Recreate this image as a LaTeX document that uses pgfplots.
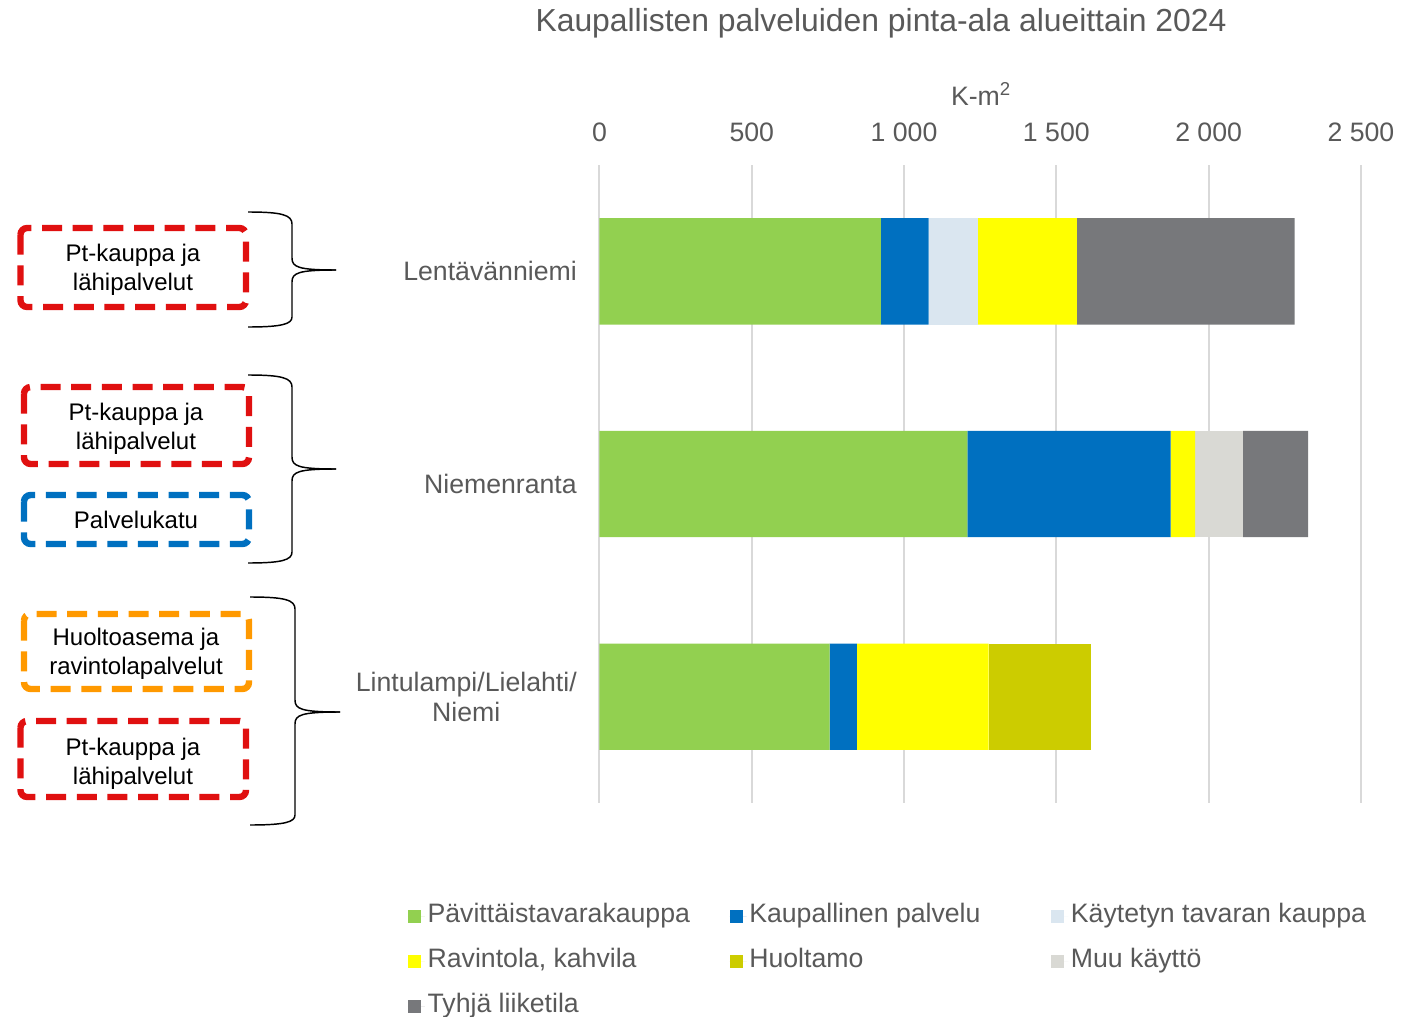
\documentclass[border=0pt]{standalone}
\usepackage{fontspec}
\setmainfont{Liberation Sans}
\usepackage{pgfplots}
\pgfplotsset{compat=1.18}

\definecolor{cGreen}{HTML}{92D050}
\definecolor{cBlue}{HTML}{0070C0}
\definecolor{cLight}{HTML}{DAE6F0}
\definecolor{cYellow}{HTML}{FFFF00}
\definecolor{cOlive}{HTML}{CCCC00}
\definecolor{cMuu}{HTML}{D9D9D4}
\definecolor{cEmpty}{HTML}{77787B}
\definecolor{txt}{HTML}{595959}
\definecolor{gridc}{HTML}{D9D9D9}
\definecolor{bxRed}{HTML}{E01010}
\definecolor{bxOrange}{HTML}{FF9900}

% 1 px of the reference = 0.75pt
\newcommand{\mainfs}{\fontsize{20}{22.5}\selectfont}
\newcommand{\legtxt}[1]{\makebox[224.5pt][l]{#1}}

\begin{document}
\begin{tikzpicture}
\useasboundingbox (0,0) rectangle (1066.5pt,-762.75pt);

\begin{axis}[
    at={(449.6pt,-602.25pt)}, anchor=south west,
    scale only axis,
    width=571.1pt, height=478.5pt,
    xbar stacked,
    bar width=0.5,
    xmin=0, xmax=2500,
    ymin=-0.5, ymax=2.5,
    y dir=reverse,
    ytick={0,1,2},
    yticklabels={Lentävänniemi, Niemenranta, {Lintulampi/Lielahti/\\Niemi}},
    yticklabel style={align=center, font=\mainfs, text=txt, xshift=-13.5pt},
    xtick={0,500,...,2500},
    xticklabels={0,500,1 000,1 500,2 000,2 500},
    xticklabel pos=upper,
    xticklabel style={font=\mainfs, text=txt, yshift=14pt},
    xmajorgrids,
    grid style={gridc, line width=1.5pt},
    axis line style={draw=none},
    major tick length=0pt,
    legend columns=3,
    legend style={draw=none, fill=none, font=\mainfs, text=txt,
        at={(-0.2515,-0.158)}, anchor=north west,
        inner sep=0pt, outer sep=0pt,
        nodes={inner xsep=2pt, inner ysep=0pt, text height=14pt, text depth=4.5pt},
        row sep=15.25pt, column sep=0pt},
    legend cell align=left,
    legend image code/.code={
        \path (0pt,0pt) -- (12.75pt,0pt);
        \fill[#1] (0pt,-4.9pt) rectangle (9.75pt,4.9pt);},
]
\addplot[fill=cGreen, draw=none] coordinates {(924,0) (1208,1) (756,2)};
\addlegendentry{\legtxt{Pävittäistavarakauppa}}
\addplot[fill=cBlue, draw=none] coordinates {(157,0) (667,1) (89,2)};
\addlegendentry{\legtxt{Kaupallinen palvelu}}
\addplot[fill=cLight, draw=none] coordinates {(161,0) (0,1) (0,2)};
\addlegendentry{Käytetyn tavaran kauppa}
\addplot[fill=cYellow, draw=none] coordinates {(325,0) (81,1) (433,2)};
\addlegendentry{\legtxt{Ravintola, kahvila}}
\addplot[fill=cOlive, draw=none] coordinates {(0,0) (0,1) (335,2)};
\addlegendentry{\legtxt{Huoltamo}}
\addplot[fill=cMuu, draw=none] coordinates {(0,0) (156,1) (0,2)};
\addlegendentry{Muu käyttö}
\addplot[fill=cEmpty, draw=none] coordinates {(715,0) (215,1) (0,2)};
\addlegendentry{\legtxt{Tyhjä liiketila}}
\end{axis}

\begin{scope}[x=0.75pt, y=-0.75pt]
% title and unit
\node[text=txt, font=\fontsize{23.9}{27}\selectfont] at (881,23) {Kaupallisten palveluiden pinta-ala alueittain 2024};
\node[text=txt, font=\mainfs] at (981,94) {K-m\textsuperscript{2}};

% dashed boxes
\begin{scope}[line width=4.8pt, dash pattern=on 15pt off 8pt, rounded corners=5pt]
\draw[bxRed] (20.5,228) rectangle (246,307);
\draw[bxRed] (24,387) rectangle (249,464);
\draw[cBlue] (24,495) rectangle (249,544);
\draw[bxOrange] (24,614) rectangle (249,689);
\draw[bxRed] (20.5,721) rectangle (246,797);
\end{scope}

\begin{scope}[font=\fontsize{18}{21.75}\selectfont, align=center]
\node at (133,270) {Pt-kauppa ja\\lähipalvelut};
\node at (136,429) {Pt-kauppa ja\\lähipalvelut};
\node at (136,520) {Palvelukatu};
\node at (136,654) {Huoltoasema ja\\ravintolapalvelut};
\node at (133,764) {Pt-kauppa ja\\lähipalvelut};
\end{scope}

% braces
\begin{scope}[line width=1.1pt]
\draw (248,212) .. controls (282,212) and (292,215) .. (292,224) -- (292,258)
  .. controls (292,267) and (298,270) .. (336,270);
\draw (336,270) .. controls (298,270) and (292,273) .. (292,282) -- (292,317)
  .. controls (292,324) and (282,327) .. (248,327);
\draw (248,375) .. controls (282,375) and (292,378) .. (292,387) -- (292,457)
  .. controls (292,466) and (298,469) .. (336,469);
\draw (336,469) .. controls (298,469) and (292,472) .. (292,481) -- (292,552)
  .. controls (292,560) and (282,563) .. (248,563);
\draw (250,597) .. controls (285,597) and (295,600) .. (295,609) -- (295,700)
  .. controls (295,709) and (301,712) .. (340,712);
\draw (340,712) .. controls (301,712) and (295,715) .. (295,724) -- (295,815)
  .. controls (295,822) and (285,825) .. (250,825);
\end{scope}
\end{scope}
\end{tikzpicture}
\end{document}
